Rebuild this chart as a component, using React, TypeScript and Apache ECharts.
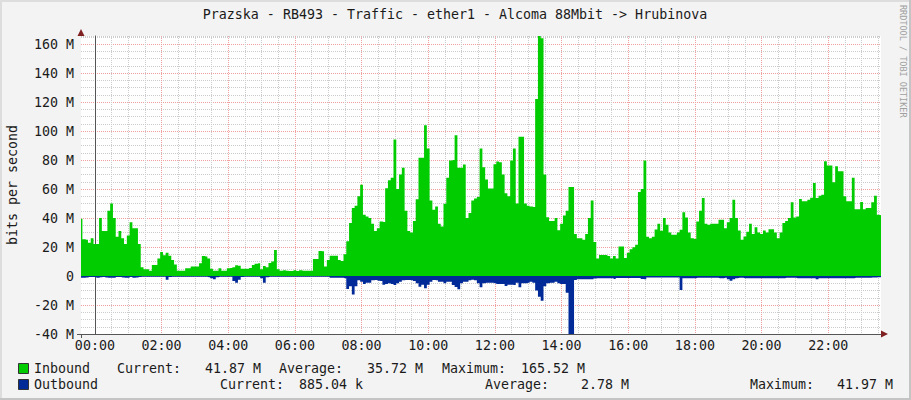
import React, { useEffect, useRef } from 'react';
import * as echarts from 'echarts';

// Time axis: minutes relative to 00:00, one sample every 5 minutes
const START_MIN = -25;
const STEP_MIN = 5;

// Inbound traffic (Mbit/s)
const inbound = [
  39.5, 25.4, 25, 23, 26,
  22, 22, 40, 31, 31, 45, 50, 40, 27, 31, 26, 22,
  28, 37, 33, 33, 22, 6, 4.6, 4.6, 3.7, 7.6, 7.6, 12,
  16.6, 14.3, 16, 14, 11, 8, 3.7, 3.7, 3.7, 5.3, 5.3, 6.5,
  6.5, 6.5, 8.8, 13.8, 13.4, 12, 5, 3.7, 3.7, 5.3, 3.7, 3.7,
  5.3, 5.5, 6, 7.5, 7, 5, 5, 5, 5.5, 7.6, 8.5, 8.8,
  4.6, 6.9, 6, 9, 10, 18, 4.6, 3.7, 4, 3.7, 3.5, 3.5,
  4, 3.5, 4, 3.7, 3.7, 3.7, 3.7, 11.8, 11.8, 17.3, 17, 6.5,
  11, 13.9, 13.9, 13.9, 11, 10.4, 15, 24, 36.5, 46.9, 48.5, 55,
  63, 42.3, 41, 40, 36, 31, 33, 37.6, 37.2, 60.5, 66, 67.7,
  94.2, 60, 70, 74.6, 45, 31, 30, 38, 53, 81.5, 81.5, 103.9,
  88, 52, 45.7, 48, 36, 34.2, 49.9, 67.7, 79.7, 80, 97, 74.6,
  74.6, 76.9, 40, 43.4, 52, 53.5, 54.5, 88, 75, 66.5, 60.3, 60.3,
  77, 79, 78.5, 70, 57, 55, 79.7, 88, 50, 96, 96, 50,
  48.5, 48, 47.6, 122, 165.52, 164, 70, 40.6, 38, 38, 40, 31.5,
  36, 41.8, 45, 61.4, 61.4, 29, 26, 26, 25, 29, 40, 52,
  23.5, 12, 14.5, 14.5, 14.5, 13.8, 12, 13.8, 12, 20.3, 20.3, 12.5,
  16, 18.5, 19.9, 21.5, 58, 60, 79.7, 27, 26, 27, 32, 36,
  31.2, 40, 35.3, 30, 28.4, 28.4, 30, 31.9, 44, 40.4, 30, 26,
  25.6, 37.6, 45, 53.8, 36, 35.3, 36, 36, 36, 38.8, 38.8, 33,
  37, 40, 52.6, 40, 31.4, 25, 27.2, 30.5, 36, 28.9, 33.7, 30,
  29, 31.4, 30, 32.3, 32.3, 30, 26, 30, 36.5, 38, 40, 50.8,
  40.4, 41, 53.1, 51.5, 51.5, 52.6, 54, 64.2, 53.8, 55.4, 56, 79.2,
  76.2, 76.2, 64.7, 75.7, 72.3, 72.3, 55, 51.5, 51.5, 67.7, 46, 46,
  51, 46, 46.9, 46.9, 50.8, 55.4, 42.3, 41.87,
];

// Outbound traffic (Mbit/s, drawn below zero)
const outbound = [
  -1.2, -1.2, -1, -0.7, -0.7,
  -0.7, -1.2, -0.8, -0.7, -1, -1.2, -1.2, -1.2, -0.7, -0.7, -1, -1.2,
  -1.2, -0.7, -1.2, -1, -0.7, -0.6, -0.6, -0.6, -0.6, -0.6, -0.6, -0.6,
  -0.6, -0.6, -2.5, -0.7, -0.6, -0.6, -0.6, -0.6, -0.6, -0.6, -0.6, -0.6,
  -0.6, -0.6, -0.6, -0.6, -0.6, -0.8, -1.5, -2.3, -0.8, -0.6, -0.6, -0.6,
  -0.6, -0.6, -3.5, -4.6, -2.5, -0.7, -0.6, -0.6, -0.6, -0.6, -0.6, -0.6,
  -1.5, -4.6, -0.8, -0.6, -0.6, -0.6, -0.6, -0.6, -0.5, -0.5, -0.5, -0.5,
  -0.5, -0.5, -0.5, -0.5, -0.5, -0.5, -0.5, -0.5, -0.5, -0.5, -0.5, -0.5,
  -0.5, -1.2, -1.2, -1.2, -1.2, -1.2, -1.5, -9, -7, -12.7, -7, -3,
  -4, -5.5, -4.6, -4.6, -3, -2.8, -3.2, -3.5, -6, -5.5, -5, -5.5,
  -6.2, -5, -4, -3, -2.8, -2.8, -3, -3.5, -5, -7.4, -6, -8.5,
  -6, -4, -2.8, -3, -4, -4, -5, -4, -4, -6.2, -7.5, -9.2,
  -5, -4, -4, -3, -2.5, -3, -5, -7.8, -5, -4.6, -4.6, -4.6,
  -5, -5.5, -5.5, -5.5, -6.9, -6, -6, -6.2, -4.6, -7.8, -5, -5,
  -4.6, -4, -4.6, -10, -14.3, -17, -7, -5, -4.6, -4.6, -4, -5,
  -5.5, -5.5, -11.5, -41.97, -41.5, -2.8, -2.3, -2.3, -2.3, -2.3, -2.3, -2.3,
  -1.8, -1.6, -1.6, -1.6, -1.6, -1.6, -1.6, -2, -1.4, -1.4, -1.4, -1.4,
  -1.4, -1.4, -1.4, -1.4, -1.4, -2, -2.3, -1, -1, -1, -1, -1,
  -1, -1, -1, -1, -1, -1, -1, -9.7, -1.6, -1.6, -1.6, -1.6,
  -1.6, -1.2, -1.2, -1.2, -1.2, -1.2, -1.2, -1.2, -1.2, -1.6, -1.6, -1.2,
  -2.3, -3.2, -2.3, -1.6, -1.2, -1.2, -1.6, -1.6, -1.6, -1.6, -1.6, -1.6,
  -1.6, -1.6, -1.6, -1.6, -1.6, -1.6, -1.6, -1.6, -1.6, -1.2, -1.2, -1.2,
  -1.2, -1.6, -1.6, -1.6, -1.6, -1.6, -1.6, -1.6, -2.3, -1.6, -1.6, -1.6,
  -1.6, -1.6, -1.6, -1.6, -1.6, -1.6, -1.6, -1.6, -1.6, -1.6, -1.2, -1.2,
  -1.2, -1.2, -1.2, -1.2, -1, -1, -0.9, -0.885,
];

const TITLE = 'Prazska - RB493 - Traffic - ether1 - Alcoma 88Mbit -> Hrubinova';
const Y_NAME = 'bits per second';
const WATERMARK = 'RRDTOOL / TOBI OETIKER';

const legendNames = ['Inbound', 'Outbound'];
const legendColors = ['#00CC00', '#002A97'];
const legendCurrent = ['41.87 M', '885.04 k'];
const legendAverage = ['35.72 M', '2.78 M'];
const legendMaximum = ['165.52 M', '41.97 M'];

const FONT = '"DejaVu Sans Mono", "Liberation Mono", monospace';
const FS = 13.3;
const MAJOR = '#F0A0A0';
const MINOR = '#CCCCCC';
const CLEAR = 'rgba(0,0,0,0)';

export default function App() {
  const ref = useRef<HTMLDivElement>(null);
  useEffect(() => {
    document.body.style.margin = '0';
    const chart = echarts.init(ref.current!, null, { renderer: 'svg' });

    const inData = inbound.map((v, i) => [START_MIN + i * STEP_MIN, v]);
    const outData = outbound.map((v, i) => [START_MIN + i * STEP_MIN, v]);

    const xLineColors = Array.from({ length: 24 }, (_, i) =>
      i === 5 ? MAJOR : i === 11 || i === 17 || i === 23 ? MINOR : CLEAR
    );
    const pad = (n: number) => (n < 10 ? '0' + n : '' + n);

    const txt = (text: string, x: number, y: number, extra: any = {}) => ({
      type: 'text',
      x,
      y,
      silent: true,
      style: {
        text,
        fill: '#1a1a1a',
        fontFamily: FONT,
        fontSize: FS,
        textVerticalAlign: 'middle',
        ...(extra.style || {}),
      },
      ...(extra.el || {}),
    });

    const rowY = [368, 384];
    const colX = [
      [34, 117, 205, 279, 367, 442, 521],
      [34, 220, 299, 485, 581, 750, 837],
    ];
    const legendGraphics: any[] = [];
    for (let r = 0; r < 2; r++) {
      legendGraphics.push({
        type: 'rect',
        shape: { x: 18.5, y: rowY[r] - 4.5, width: 10, height: 10 },
        style: { fill: legendColors[r], stroke: '#333', lineWidth: 1 },
        silent: true,
      });
      const parts = [
        legendNames[r], 'Current:', legendCurrent[r], 'Average:',
        legendAverage[r], 'Maximum:', legendMaximum[r],
      ];
      parts.forEach((p, k) => legendGraphics.push(txt(p, colX[r][k], rowY[r])));
    }

    const option: any = {
      animation: false,
      backgroundColor: '#F3F3F3',
      grid: {
        left: 81,
        top: 36,
        width: 800,
        height: 298,
        show: true,
        backgroundColor: '#FFFFFF',
        borderWidth: 0,
        containLabel: false,
        outerBoundsMode: 'none',
      },
      xAxis: {
        type: 'value',
        min: START_MIN,
        max: START_MIN + 1440,
        interval: 5,
        axisLine: { show: true, onZero: false, lineStyle: { color: '#555', width: 1 } },
        axisTick: { show: false },
        splitLine: { show: true, lineStyle: { color: xLineColors, type: [1, 1], width: 1 } },
        axisLabel: {
          show: true,
          margin: 5,
          color: '#1a1a1a',
          fontFamily: FONT,
          fontSize: FS,
          formatter: (v: number) => {
            const m = Math.round(v);
            if (m >= 0 && m < 1440 && m % 120 === 0) return pad(m / 60) + ':00';
            return '';
          },
        },
      },
      yAxis: {
        type: 'value',
        min: -40,
        max: 165.52,
        interval: 5,
        axisLine: { show: true, lineStyle: { color: '#555', width: 1 } },
        axisTick: { show: false },
        splitLine: { show: true, lineStyle: { color: [MAJOR, MINOR, MINOR, MINOR], type: [1, 1], width: 1 } },
        axisLabel: {
          show: true,
          margin: 7,
          color: '#1a1a1a',
          fontFamily: FONT,
          fontSize: FS,
          formatter: (v: number) => {
            const r = Math.round(v);
            if (Math.abs(v - r) > 1e-6 || r % 20 !== 0) return '';
            return r === 0 ? '0' : r + ' M';
          },
        },
      },
      series: [
        {
          name: 'Inbound',
          type: 'line',
          step: 'middle',
          data: inData,
          symbol: 'none',
          clip: true,
          lineStyle: { width: 0, color: '#00CC00' },
          itemStyle: { color: '#00CC00' },
          areaStyle: { color: '#00CC00', opacity: 1 },
          z: 2,
        },
        {
          name: 'Outbound',
          type: 'line',
          step: 'middle',
          data: outData,
          symbol: 'none',
          clip: true,
          lineStyle: { width: 0, color: '#002A97' },
          itemStyle: { color: '#002A97' },
          areaStyle: { color: '#002A97', opacity: 1 },
          z: 3,
        },
      ],
      graphic: [
        { type: 'rect', shape: { x: 0, y: 0, width: 911, height: 2 }, style: { fill: '#DDDDDD' }, silent: true },
        { type: 'rect', shape: { x: 0, y: 0, width: 2, height: 400 }, style: { fill: '#DDDDDD' }, silent: true },
        { type: 'rect', shape: { x: 0, y: 398, width: 911, height: 2 }, style: { fill: '#C4C4C4' }, silent: true },
        { type: 'rect', shape: { x: 909, y: 0, width: 2, height: 400 }, style: { fill: '#C4C4C4' }, silent: true },
        txt(TITLE, 455, 14, { style: { textAlign: 'center' } }),
        txt(Y_NAME, 12, 185, { style: { textAlign: 'center' }, el: { rotation: Math.PI / 2 } }),
        txt(WATERMARK, 903, 5, {
          style: { textAlign: 'left', fontSize: 8.5, fill: '#A0A0A0' },
          el: { rotation: -Math.PI / 2 },
        }),
        // axis stubs beyond the plot corner
        { type: 'line', shape: { x1: 77, y1: 334.5, x2: 81, y2: 334.5 }, style: { stroke: '#555', lineWidth: 1 }, silent: true },
        { type: 'line', shape: { x1: 81.5, y1: 334, x2: 81.5, y2: 338 }, style: { stroke: '#555', lineWidth: 1 }, silent: true },
        {
          type: 'polygon',
          shape: { points: [[81, 29], [77.5, 36], [84.5, 36]] },
          style: { fill: '#7F1F1F' },
          silent: true,
        },
        {
          type: 'polygon',
          shape: { points: [[888, 334], [881, 330.5], [881, 337.5]] },
          style: { fill: '#7F1F1F' },
          silent: true,
        },
        ...legendGraphics,
      ],
    };
    chart.setOption(option);
    return () => chart.dispose();
  }, []);
  return <div ref={ref} style={{ width: 911, height: 400, position: 'absolute', left: 0, top: 0 }} />;
}
